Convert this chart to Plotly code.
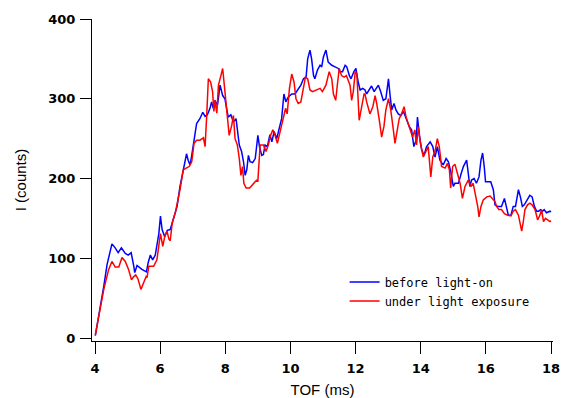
import plotly.graph_objects as go

# "before light-on" (blue)
tof_before = [4.01, 4.15, 4.27, 4.37, 4.45, 4.52, 4.62, 4.71, 4.81, 4.93, 5.02, 5.11, 5.19, 5.22, 5.29, 5.44, 5.58, 5.63, 5.70, 5.77,
              5.85, 5.96, 6.01, 6.06, 6.14, 6.22, 6.31, 6.42, 6.52, 6.61, 6.71, 6.81, 6.86, 6.92, 6.97, 7.02, 7.07, 7.12, 7.22, 7.31,
              7.38, 7.45, 7.53, 7.58, 7.63, 7.68, 7.76, 7.84, 7.92, 7.99, 8.04, 8.09, 8.17, 8.25, 8.33, 8.37, 8.43, 8.50, 8.56, 8.61,
              8.66, 8.71, 8.76, 8.84, 8.92, 9.00, 9.05, 9.12, 9.17, 9.22, 9.29, 9.37, 9.43, 9.50, 9.58, 9.68, 9.73, 9.80, 9.86, 9.93,
              10.04, 10.14, 10.24, 10.32, 10.40, 10.48, 10.53, 10.60, 10.65, 10.71, 10.75, 10.83, 10.91, 10.96, 11.01, 11.09, 11.16,
              11.27, 11.37, 11.47, 11.52, 11.60, 11.68, 11.73, 11.81, 11.86, 11.95, 12.01, 12.08, 12.14, 12.22, 12.29, 12.34, 12.44,
              12.49, 12.57, 12.65, 12.70, 12.77, 12.85, 12.93, 13.01, 13.06, 13.11, 13.18, 13.24, 13.31, 13.39, 13.47, 13.57, 13.65,
              13.72, 13.79, 13.86, 13.90, 13.96, 14.03, 14.10, 14.18, 14.29, 14.37, 14.44, 14.51, 14.59, 14.69, 14.78, 14.85, 14.92,
              15.00, 15.05, 15.16, 15.24, 15.31, 15.41, 15.46, 15.51, 15.56, 15.64, 15.71, 15.79, 15.85, 15.90, 15.95, 15.99, 16.08,
              16.15, 16.23, 16.28, 16.36, 16.48, 16.57, 16.61, 16.69, 16.77, 16.84, 16.91, 17.00, 17.06, 17.12, 17.18, 17.28, 17.35,
              17.42, 17.49, 17.56, 17.62, 17.68, 17.74, 17.79, 17.86, 17.97, 18.00]
counts_before = [3, 35, 65, 92, 105, 118, 113, 107, 113, 106, 104, 107, 90, 82, 91, 86, 83, 94, 104, 98,
                 104, 131, 153, 136, 127, 135, 136, 152, 165, 190, 213, 231, 223, 217, 229, 242, 256, 269, 275, 283,
                 278, 280, 288, 296, 288, 298, 292, 317, 304, 300, 288, 277, 280, 271, 275, 263, 242, 234, 221, 204,
                 211, 229, 221, 220, 225, 254, 240, 229, 230, 242, 240, 255, 246, 259, 250, 267, 275, 306, 296, 302,
                 306, 306, 313, 317, 325, 327, 350, 361, 350, 329, 325, 336, 342, 340, 352, 361, 346,
                 342, 340, 338, 334, 334, 342, 340, 329, 325, 334, 338, 321, 311, 313, 311, 306, 314,
                 316, 309, 315, 317, 309, 298, 300, 325, 304, 286, 294, 286, 281, 279, 284, 273, 265,
                 261, 240, 248, 277, 254, 236, 229, 240, 246, 240, 227, 240, 223, 217, 225, 221, 209,
                 190, 194, 194, 206, 215, 223, 206, 190, 198, 200, 194, 202, 223, 232, 215, 196, 196,
                 196, 186, 167, 165, 165, 175, 167, 154, 154, 165, 165, 186, 177, 165, 167, 174, 179,
                 177, 165, 159, 159, 161, 159, 161, 157, 159, 158]

# "under light exposure" (red)
tof_under = [4.01, 4.15, 4.27, 4.42, 4.52, 4.62, 4.73, 4.83, 4.93, 5.03, 5.12, 5.19, 5.25, 5.32, 5.41, 5.49, 5.57, 5.60, 5.65, 5.80,
             5.90, 6.01, 6.08, 6.14, 6.21, 6.27, 6.31, 6.37, 6.47, 6.61, 6.71, 6.80, 6.89, 6.97, 7.04, 7.12, 7.22, 7.33, 7.38, 7.43,
             7.48, 7.55, 7.61, 7.65, 7.68, 7.74, 7.79, 7.84, 7.92, 7.97, 8.02, 8.06, 8.12, 8.20, 8.25, 8.30, 8.37, 8.43, 8.48, 8.53,
             8.57, 8.64, 8.75, 8.86, 8.96, 9.00, 9.07, 9.17, 9.25, 9.32, 9.39, 9.46, 9.53, 9.60, 9.66, 9.73, 9.80, 9.85, 9.90, 9.97,
             10.04, 10.11, 10.17, 10.24, 10.32, 10.40, 10.46, 10.53, 10.60, 10.68, 10.80, 10.91, 10.98, 11.09, 11.19, 11.27, 11.32,
             11.39, 11.45, 11.50, 11.57, 11.65, 11.72, 11.78, 11.83, 11.88, 11.93, 11.99, 12.04, 12.11, 12.19, 12.26, 12.29, 12.34,
             12.44, 12.53, 12.60, 12.65, 12.73, 12.80, 12.87, 12.93, 13.01, 13.08, 13.16, 13.21, 13.26, 13.34, 13.41, 13.49, 13.55,
             13.62, 13.69, 13.75, 13.82, 13.87, 13.93, 13.99, 14.08, 14.16, 14.23, 14.31, 14.37, 14.44, 14.51, 14.57, 14.64, 14.75,
             14.82, 14.88, 14.92, 14.98, 15.05, 15.13, 15.21, 15.28, 15.36, 15.46, 15.54, 15.61, 15.69, 15.75, 15.79, 15.85, 15.92,
             16.03, 16.13, 16.20, 16.28, 16.33, 16.40, 16.48, 16.57, 16.67, 16.77, 16.84, 16.91, 17.00, 17.06, 17.10, 17.15, 17.20,
             17.28, 17.35, 17.42, 17.51, 17.59, 17.66, 17.71, 17.77, 17.83, 17.91, 17.97, 18.00]
counts_under = [4, 35, 61, 86, 96, 89, 89, 101, 96, 86, 73, 77, 79, 74, 61, 69, 77, 76, 90, 90,
                98, 131, 115, 127, 134, 124, 122, 144, 158, 186, 211, 213, 215, 221, 244, 248, 248, 251, 240, 279,
                325, 321, 309, 284, 298, 282, 317, 325, 338, 317, 292, 279, 254, 267, 279, 250, 242, 225, 204, 215,
                194, 188, 188, 194, 198, 197, 242, 242, 234, 242, 254, 261, 254, 244, 256, 267, 279, 288, 281, 313,
                331, 321, 300, 294, 296, 315, 327, 325, 311, 309, 311, 313, 309, 317, 334, 325, 306,
                298, 321, 338, 329, 327, 329, 323, 317, 298, 309, 334, 331, 273, 292, 306, 306, 296,
                281, 290, 304, 294, 273, 252, 265, 286, 300, 286, 261, 244, 256, 275, 281, 290, 277,
                269, 259, 252, 261, 242, 265, 244, 227, 234, 240, 202, 227, 234, 250, 240, 215, 213,
                219, 211, 188, 215, 218, 206, 194, 175, 190, 198, 190, 194, 179, 165, 152, 165, 173,
                177, 178, 175, 171, 165, 161, 161, 156, 154, 153, 159, 161, 154, 142, 134, 146, 161,
                167, 169, 167, 161, 148, 154, 161, 146, 150, 148, 146, 147]

x_ticks = [4, 6, 8, 10, 12, 14, 16, 18]
y_ticks = [0, 100, 200, 300, 400]

fig = go.Figure()
fig.add_trace(go.Scatter(x=tof_before, y=counts_before, mode="lines", name="before light-on",
                         line=dict(color="#0000FF", width=1.5)))
fig.add_trace(go.Scatter(x=tof_under, y=counts_under, mode="lines", name="under light exposure",
                         line=dict(color="#FF0000", width=1.5)))

tickfont = dict(family="DejaVu Sans", size=13, color="black", weight="bold")
titlefont = dict(family="Liberation Sans, Arial", size=15, color="black")
fig.update_layout(
    width=561, height=398,
    margin=dict(l=92, r=8, t=19, b=57, autoexpand=False),
    paper_bgcolor="white", plot_bgcolor="white",
    showlegend=True,
    legend=dict(x=0.548, y=0.228, xanchor="left", yanchor="top", bgcolor="rgba(0,0,0,0)",
                font=dict(family="DejaVu Sans Mono", size=12, color="black"),
                tracegroupgap=0, itemwidth=30),
    xaxis=dict(range=[4 - 3 / 32.57, 18 + 2 / 32.57], tickvals=x_ticks, ticktext=[str(v) for v in x_ticks],
               automargin=False,
               showgrid=False, zeroline=False, showline=True, linecolor="black", linewidth=1,
               ticks="outside", ticklen=12, tickwidth=1, tickcolor="black", tickfont=tickfont,
               ticklabelstandoff=3,
               title=dict(text="TOF (ms)", font=titlefont, standoff=10)),
    yaxis=dict(range=[-3.75, 400], tickvals=y_ticks, ticktext=[str(v) for v in y_ticks],
               automargin=False,
               showgrid=False, zeroline=False, showline=True, linecolor="black", linewidth=1,
               ticks="outside", ticklen=11, tickwidth=1, tickcolor="black", tickfont=tickfont,
               ticklabelstandoff=2,
               title=dict(text="I (counts)", font=titlefont, standoff=18)),
)

fig.write_html("out.html", config={"displayModeBar": False},
               post_script="document.body.style.margin='0px';")
